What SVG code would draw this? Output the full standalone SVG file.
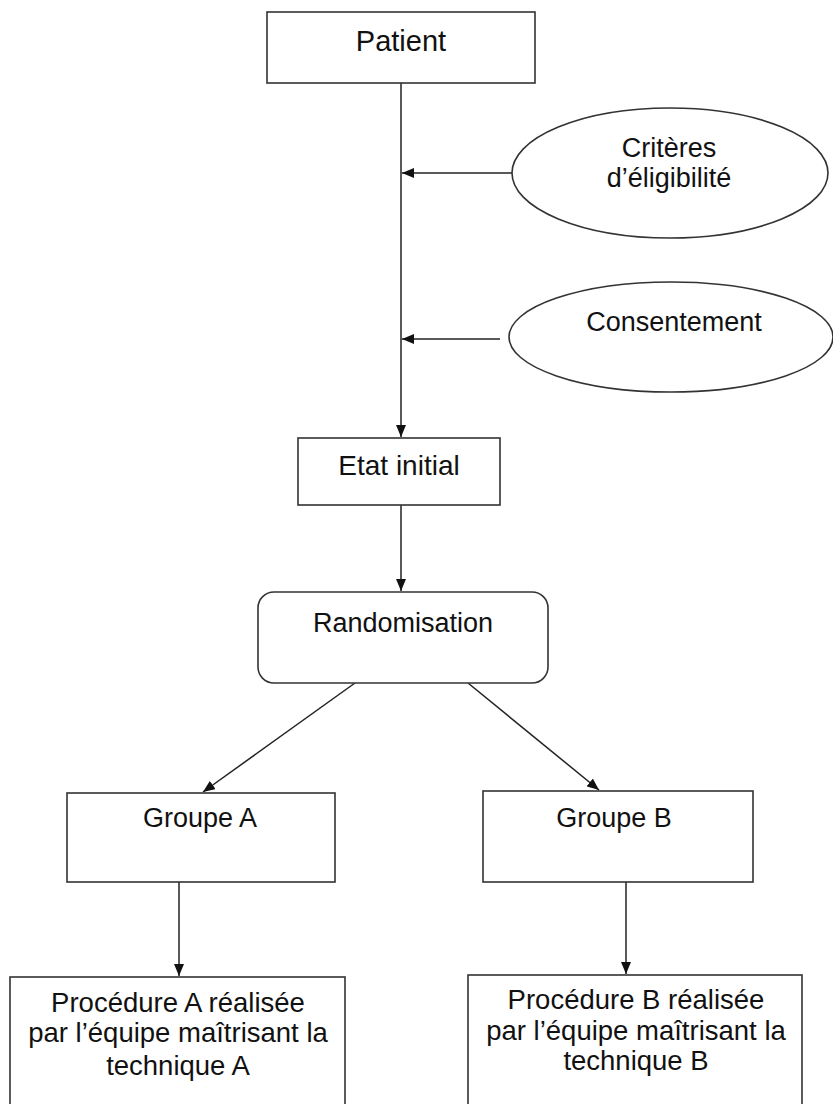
<svg xmlns="http://www.w3.org/2000/svg" width="833" height="1104" viewBox="0 0 833 1104">
<defs>
<marker id="arr" viewBox="0 0 12 10" refX="12" refY="5" markerWidth="12" markerHeight="10" markerUnits="userSpaceOnUse" orient="auto">
<path d="M0,0 L12,5 L0,10 z" fill="#111"/>
</marker>
<style>
.box{fill:#fff;stroke:#333;stroke-width:1.6}
.ln{fill:none;stroke:#222;stroke-width:1.5;marker-end:url(#arr)}
text{font-family:"Liberation Sans",Arial,sans-serif;fill:#111;text-anchor:middle}
.t{font-size:27px}
.p{font-size:27.5px}
</style>
</defs>
<rect width="833" height="1104" fill="#fff"/>
<g id="connectors">
<line class="ln" x1="401" y1="83" x2="401" y2="437"/>
<line class="ln" x1="512" y1="173" x2="402" y2="173"/>
<line class="ln" x1="500" y1="339" x2="402" y2="339"/>
<line class="ln" x1="401" y1="505" x2="401" y2="591"/>
<line class="ln" x1="355" y1="683" x2="203" y2="792"/>
<line class="ln" x1="468" y1="683" x2="599" y2="790"/>
<line class="ln" x1="179" y1="882" x2="179" y2="976"/>
<line class="ln" x1="626" y1="882" x2="626" y2="974"/>
</g>
<g id="patient">
<rect class="box" x="267" y="12" width="268" height="71"/>
<text class="t" x="401" y="51" style="font-size:29px">Patient</text>
</g>
<g id="criteres">
<ellipse class="box" cx="670" cy="173" rx="158" ry="65"/>
<text class="t" x="669" y="157">Critères</text>
<text class="t" x="669" y="187">d’éligibilité</text>
</g>
<g id="consentement">
<ellipse class="box" cx="671" cy="337" rx="162" ry="55"/>
<text class="t" x="674" y="331">Consentement</text>
</g>
<g id="etat">
<rect class="box" x="298" y="438" width="202" height="67"/>
<text class="t" x="399" y="475" style="font-size:28px">Etat initial</text>
</g>
<g id="randomisation">
<rect class="box" x="258" y="592" width="290" height="91" rx="16"/>
<text class="t" x="403" y="632">Randomisation</text>
</g>
<g id="groupeA">
<rect class="box" x="67" y="793" width="268" height="89"/>
<text class="t" x="200" y="827">Groupe A</text>
</g>
<g id="groupeB">
<rect class="box" x="483" y="791" width="270" height="91"/>
<text class="t" x="614" y="827">Groupe B</text>
</g>
<g id="procA">
<rect class="box" x="10" y="977" width="335" height="140"/>
<text class="p" x="178" y="1012">Procédure A réalisée</text>
<text class="p" x="178" y="1042">par l’équipe maîtrisant la</text>
<text class="p" x="178" y="1075">technique A</text>
</g>
<g id="procB">
<rect class="box" x="468" y="975" width="334" height="140"/>
<text class="p" x="636" y="1009">Procédure B réalisée</text>
<text class="p" x="636" y="1040">par l’équipe maîtrisant la</text>
<text class="p" x="636" y="1070">technique B</text>
</g>
</svg>
